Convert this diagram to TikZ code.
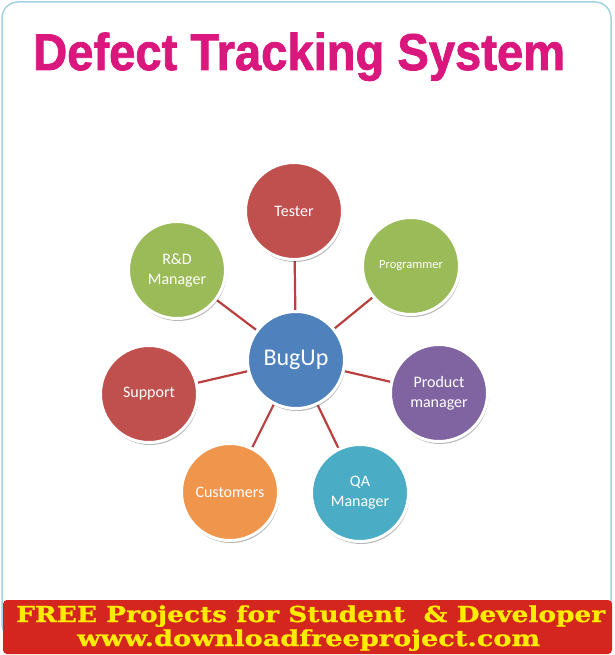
\documentclass[tikz,border=0pt]{standalone}
\usepackage{fontspec}
\setmainfont{Carlito}
\newfontfamily\titlefont{Liberation Sans}[BoldFeatures={FakeBold=1.6}]
\newfontfamily\bannerfont{DejaVu Serif}[BoldFeatures={FakeBold=0.8}]
\usetikzlibrary{shadows,backgrounds}
\definecolor{titlemag}{HTML}{D9177C}
\definecolor{framebl}{HTML}{A6D3E2}
\definecolor{bannerred}{HTML}{D4251E}
\definecolor{banneryel}{HTML}{FFEC00}
\definecolor{linkred}{HTML}{B8403E}
\definecolor{cred}{HTML}{C0504D}
\definecolor{cgreen}{HTML}{9BBB59}
\definecolor{cpurple}{HTML}{8064A2}
\definecolor{cteal}{HTML}{4BACC6}
\definecolor{corange}{HTML}{F0954C}
\definecolor{cblue}{HTML}{4F81BD}
\begin{document}
\begin{tikzpicture}[x=1pt,y=-1pt,
  bub/.style={circle, draw=white, line width=3pt, minimum size=97pt, inner sep=0pt,
    text=white, align=center, font=\fontsize{16}{20}\selectfont,
    drop shadow={shadow xshift=1pt,shadow yshift=-2.5pt,opacity=0.28,fill=black}},
  link/.style={draw=linkred, line width=2.2pt}]
\useasboundingbox (0,0) rectangle (614,655);
\draw[framebl, line width=1.5pt, rounded corners=16pt] (2,2) rectangle (611,640);
\node[anchor=base west, inner sep=0pt, text=titlemag] (title) at (33,70)
  {\resizebox{532pt}{\height}{\titlefont\bfseries\fontsize{51.7}{60}\selectfont Defect Tracking System}};
\node[bub, fill=cblue, font=\fontsize{24}{28}\selectfont] (bug) at (296,360) {BugUp};
\node[bub, fill=cred] (tester) at (294,211) {Tester};
\node[bub, fill=cgreen] (rd) at (177,270) {R\&D\\Manager};
\node[bub, fill=cgreen, font=\fontsize{12.5}{15}\selectfont] (prog) at (411,266) {Programmer};
\node[bub, fill=cred] (support) at (149,394) {Support};
\node[bub, fill=cpurple] (pm) at (439,393) {Product\\manager};
\node[bub, fill=corange] (cust) at (230,492) {Customers};
\node[bub, fill=cteal] (qa) at (360,493) {QA\\Manager};
\begin{pgfonlayer}{background}
\foreach \n in {tester,rd,prog,support,pm,cust,qa}
  \draw[link] (bug) -- (\n);
\end{pgfonlayer}
\node[fill=bannerred, rounded corners=4pt, minimum width=609pt, minimum height=54pt, inner sep=0pt] (banner) at (307.5,627) {};
\node[anchor=base west, inner sep=0pt, text=banneryel] (line1) at (16,622)
  {\resizebox{589pt}{\height}{\bannerfont\bfseries\fontsize{22}{26}\selectfont FREE Projects for Student \ \& Developer}};
\node[anchor=base west, inner sep=0pt, text=banneryel] (line2) at (77,646)
  {\resizebox{463pt}{\height}{\bannerfont\bfseries\fontsize{22}{26}\selectfont www.downloadfreeproject.com}};
\end{tikzpicture}
\end{document}
